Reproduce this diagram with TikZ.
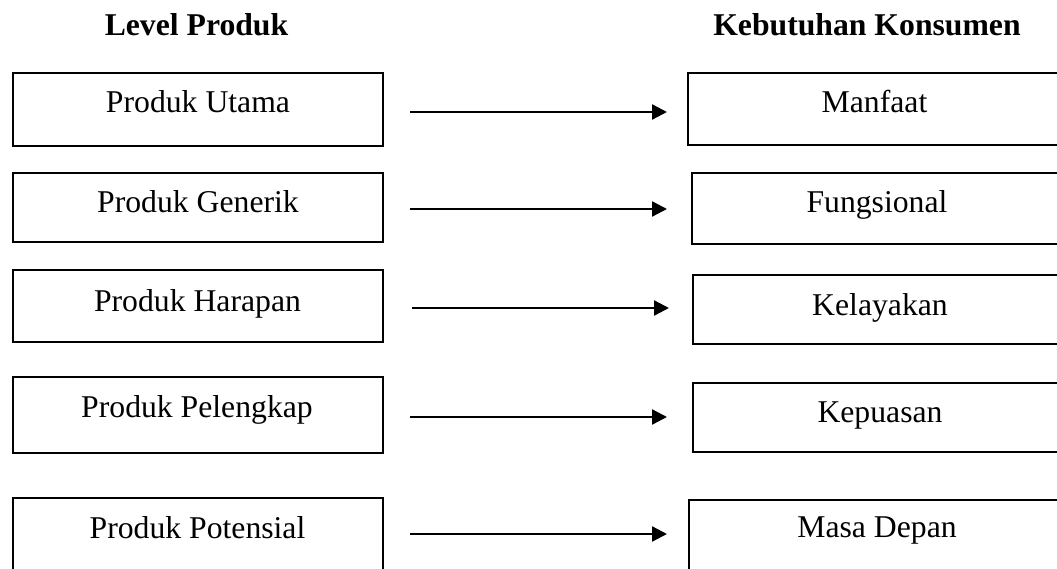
\documentclass[tikz,border=0pt]{standalone}
\usepackage{fontspec}
\setmainfont{Liberation Serif}
\usetikzlibrary{arrows.meta}
\begin{document}
\begin{tikzpicture}[x=1pt,y=-1pt,
  box/.style={draw=black,line width=1.5pt,rectangle,inner sep=0pt,outer sep=0pt,anchor=north west},
  txt/.style={anchor=base,inner sep=0pt,font=\fontsize{31.7}{38}\selectfont},
  head/.style={anchor=base,inner sep=0pt,font=\fontsize{31.7}{38}\selectfont\bfseries},
  arr/.style={line width=2.3pt,-{Triangle[length=15pt,width=15pt]}}]
\useasboundingbox (0,0) rectangle (1057,569);
\clip (0,0) rectangle (1057,569);
% headers
\node[head] (h1) at (196.5,36) {Level Produk};
\node[head] (h2) at (867,36) {Kebutuhan Konsumen};
% left boxes
\node[box,minimum width=370pt,minimum height=73pt] (L1) at (13,73) {};
\node[box,minimum width=370pt,minimum height=69pt] (L2) at (13,173) {};
\node[box,minimum width=370pt,minimum height=72pt] (L3) at (13,270) {};
\node[box,minimum width=370pt,minimum height=76pt] (L4) at (13,377) {};
\node[box,minimum width=370pt,minimum height=110pt] (L5) at (13,498) {};
% right boxes (run past the right edge)
\node[box,minimum width=420pt,minimum height=72pt] (R1) at (688,73) {};
\node[box,minimum width=420pt,minimum height=71pt] (R2) at (692,173) {};
\node[box,minimum width=420pt,minimum height=69pt] (R3) at (693,275) {};
\node[box,minimum width=420pt,minimum height=69pt] (R4) at (693,383) {};
\node[box,minimum width=420pt,minimum height=110pt] (R5) at (689,500) {};
% texts
\node[txt] (t1) at (198,113) {Produk Utama};
\node[txt] (t2) at (198,213) {Produk Generik};
\node[txt] (t3) at (197.5,312) {Produk Harapan};
\node[txt] (t4) at (197,417) {Produk Pelengkap};
\node[txt] (t5) at (197.5,538) {Produk Potensial};
\node[txt] (u1) at (874.5,113) {Manfaat};
\node[txt] (u2) at (877,213) {Fungsional};
\node[txt] (u3) at (880,316) {Kelayakan};
\node[txt] (u4) at (880,422) {Kepuasan};
\node[txt] (u5) at (877,537) {Masa Depan};
% arrow ends
\coordinate (a1s) at (410,112); \coordinate (a1e) at (667,112);
\coordinate (a2s) at (410,209); \coordinate (a2e) at (667,209);
\coordinate (a3s) at (412,308); \coordinate (a3e) at (669,308);
\coordinate (a4s) at (410,417); \coordinate (a4e) at (667,417);
\coordinate (a5s) at (410,534); \coordinate (a5e) at (667,534);
\draw[arr] (a1s) -- (a1e);
\draw[arr] (a2s) -- (a2e);
\draw[arr] (a3s) -- (a3e);
\draw[arr] (a4s) -- (a4e);
\draw[arr] (a5s) -- (a5e);
\end{tikzpicture}
\end{document}
